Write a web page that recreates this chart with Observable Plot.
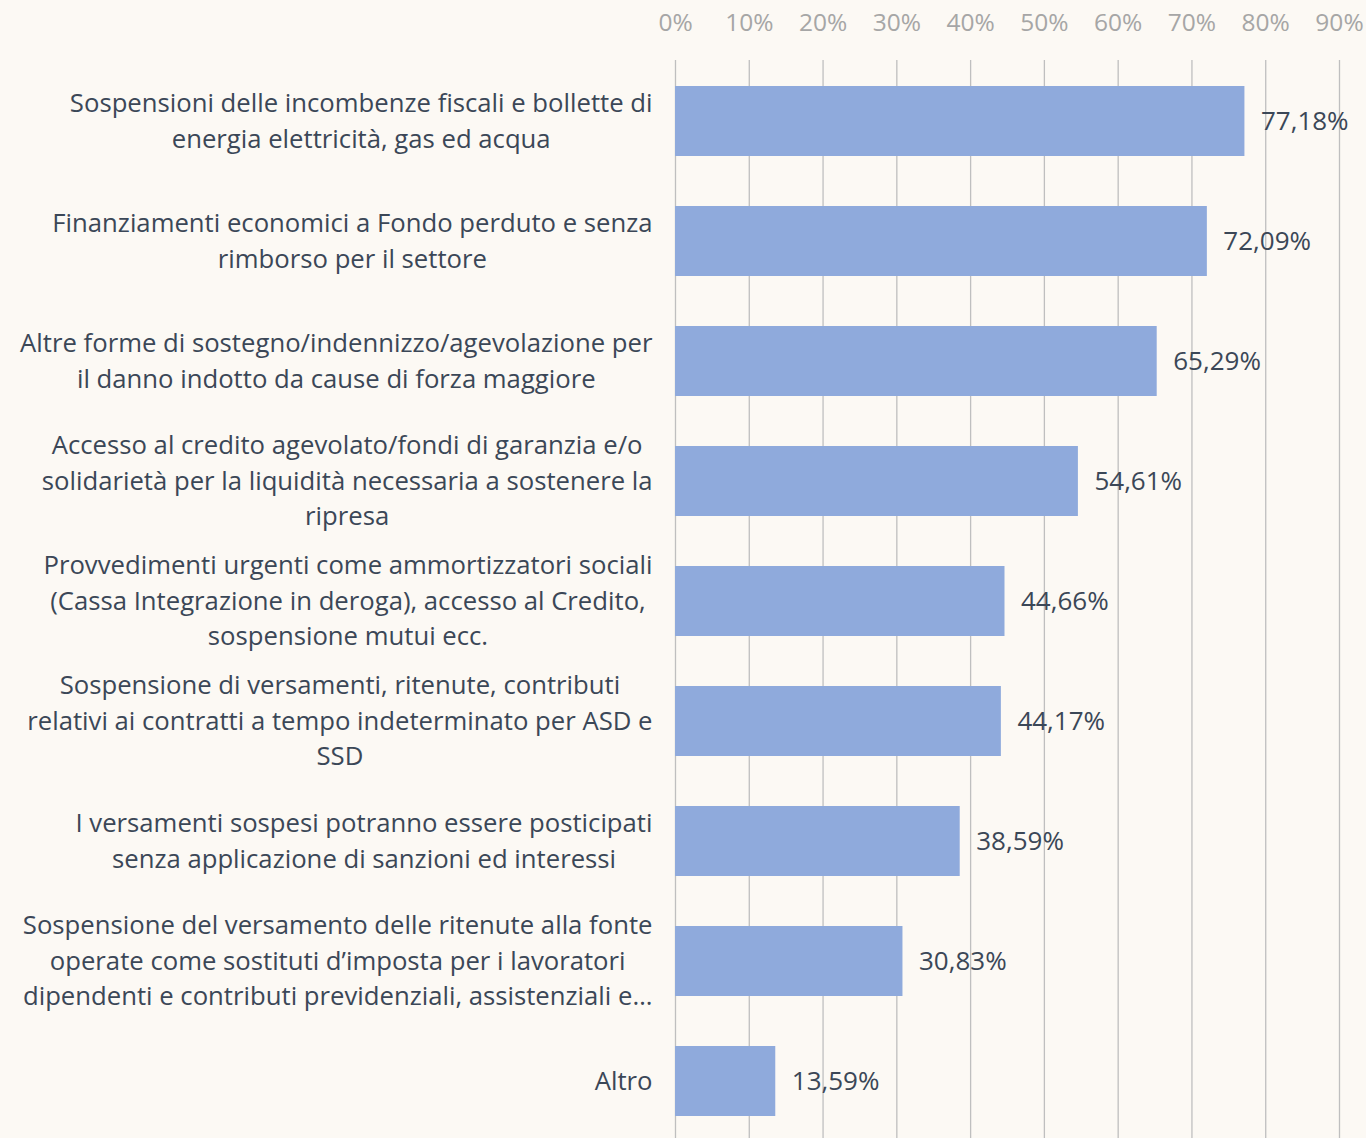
<!DOCTYPE html>
<html>
<head>
<meta charset="utf-8">
<script src="https://cdn.jsdelivr.net/npm/d3@7"></script>
<script src="https://cdn.jsdelivr.net/npm/@observablehq/plot@0.6"></script>
<style>
  html, body { margin: 0; padding: 0; background: #fcf9f4; }
  #chart svg { display: block; }
</style>
</head>
<body>
<div id="chart"></div>
<script>
const categories = [
  "Sospensioni delle incombenze fiscali e bollette di\nenergia elettricità, gas ed acqua",
  "Finanziamenti economici a Fondo perduto e senza\nrimborso per il settore",
  "Altre forme di sostegno/indennizzo/agevolazione per\nil danno indotto da cause di forza maggiore",
  "Accesso al credito agevolato/fondi di garanzia e/o\nsolidarietà per la liquidità necessaria a sostenere la\nripresa",
  "Provvedimenti urgenti come ammortizzatori sociali\n(Cassa Integrazione in deroga), accesso al Credito,\nsospensione mutui ecc.",
  "Sospensione di versamenti, ritenute, contributi\nrelativi ai contratti a tempo indeterminato per ASD e\nSSD",
  "I versamenti sospesi potranno essere posticipati\nsenza applicazione di sanzioni ed interessi",
  "Sospensione del versamento delle ritenute alla fonte\noperate come sostituti d’imposta per i lavoratori\ndipendenti e contributi previdenziali, assistenziali e…",
  "Altro"
];
const values = [77.18, 72.09, 65.29, 54.61, 44.66, 44.17, 38.59, 30.83, 13.59];
const xTicks = [0, 10, 20, 30, 40, 50, 60, 70, 80, 90];

const data = categories.map((c, i) => ({category: c, value: values[i]}));
const fmt = v => v.toFixed(2).replace(".", ",") + "%";

const FONT = "'Open Sans', 'Noto Sans', sans-serif";
const TEXT = "#3b4757";

const chart = Plot.plot({
  width: 1366,
  height: 1138,
  marginTop: 60,
  marginBottom: 0,
  marginLeft: 675,
  marginRight: 27,
  style: {background: "#fcf9f4", fontFamily: FONT, fontSize: "24px", overflow: "visible"},
  x: {domain: [0, 90]},
  y: {domain: categories, range: [58.5, 1143.5], paddingInner: 0.42, paddingOuter: 0.21, axis: null},
  marks: [
    Plot.gridX(xTicks, {stroke: "#bfbfbf", strokeOpacity: 1, strokeWidth: 1.3}),
    Plot.axisX(xTicks, {anchor: "top", tickSize: 0, tickPadding: 30, tickFormat: d => d + "%", fill: "#a6a6a6", fontSize: 24.5, label: null}),
    Plot.barX(data, {x: "value", y: "category", fill: "#8faadc"}),
    Plot.text(data, {x: "value", y: "category", text: d => fmt(d.value), textAnchor: "start", dx: 16, fill: TEXT, fontSize: 26}),
    Plot.text(data, {y: "category", text: "category", frameAnchor: "left", dx: -23, dy: -3, textAnchor: "end", lineHeight: 1.38, fill: TEXT, fontSize: 25.7, className: "ylab"})
  ]
});
document.getElementById("chart").appendChild(chart);

// Center multi-line labels within their own block (Excel-style), block right-aligned
chart.querySelectorAll(".ylab text").forEach(t => {
  const spans = t.querySelectorAll("tspan");
  if (spans.length < 2) return;
  let maxW = 0;
  spans.forEach(s => { maxW = Math.max(maxW, s.getComputedTextLength()); });
  t.setAttribute("text-anchor", "middle");
  spans.forEach(s => s.setAttribute("x", -maxW / 2));
});
</script>
</body>
</html>
